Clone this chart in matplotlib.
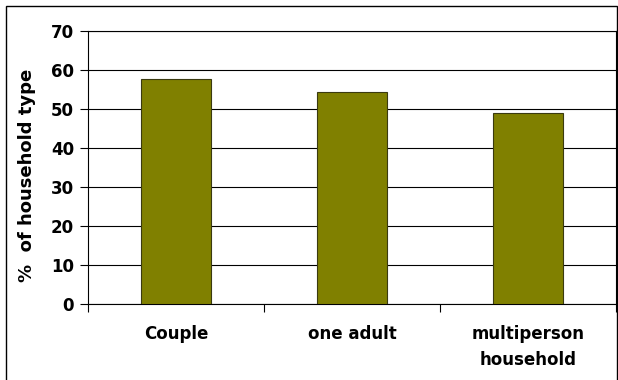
import matplotlib
matplotlib.use("Agg")
import matplotlib.pyplot as plt
from matplotlib.patches import Rectangle

categories = ["Couple", "one adult", "multiperson\nhousehold"]
values = [57.8, 54.4, 48.9]
yticks = [0, 10, 20, 30, 40, 50, 60, 70]

W, H = 618, 380
fig = plt.figure(figsize=(W / 100, H / 100), dpi=100)
plt.rcParams['font.family'] = ['DejaVu Sans']

# outer frame
fig.patches.append(Rectangle((6 / W, -0.1), (616.5 - 6) / W, 1.1 - 6 / H,
                             transform=fig.transFigure, fill=False,
                             edgecolor='black', linewidth=1.0))

left, right, top, bottom = 88, 616, 31, 304
ax = fig.add_axes([left / W, 1 - bottom / H, (right - left) / W, (bottom - top) / H])

x = list(range(len(categories)))
ax.bar(x, values, width=0.40, color='#808000', edgecolor='#3a3a10', linewidth=0.8, zorder=3)
ax.set_xlim(-0.5, len(categories) - 0.5)
ax.set_ylim(0, 70)
ax.set_yticks(yticks)
ax.set_yticklabels([str(t) for t in yticks], fontsize=12, fontweight='bold')
ax.yaxis.grid(True, color='black', linewidth=0.8, zorder=0)
ax.set_axisbelow(True)

ax.set_xticks(x)
ax.set_xticklabels(categories, fontsize=12, fontweight='bold', linespacing=1.55)
ax.tick_params(axis='x', length=0, pad=15)
ax.set_xticks([i - 0.5 for i in range(len(categories) + 1)], minor=True)
ax.tick_params(axis='x', which='minor', length=6, width=0.8, direction='out')
ax.tick_params(axis='y', length=6, width=0.8, direction='out', pad=4)

for s in ['left', 'bottom', 'top', 'right']:
    ax.spines[s].set_linewidth(0.8)
    ax.spines[s].set_color('black')

ax.set_ylabel("%  of household type", fontsize=13, fontweight='bold',
              va='center', ha='center')
ax.yaxis.set_label_coords((27 - left) / (right - left), (bottom - 175) / (bottom - top))

fig.savefig("out.png", dpi=100)
